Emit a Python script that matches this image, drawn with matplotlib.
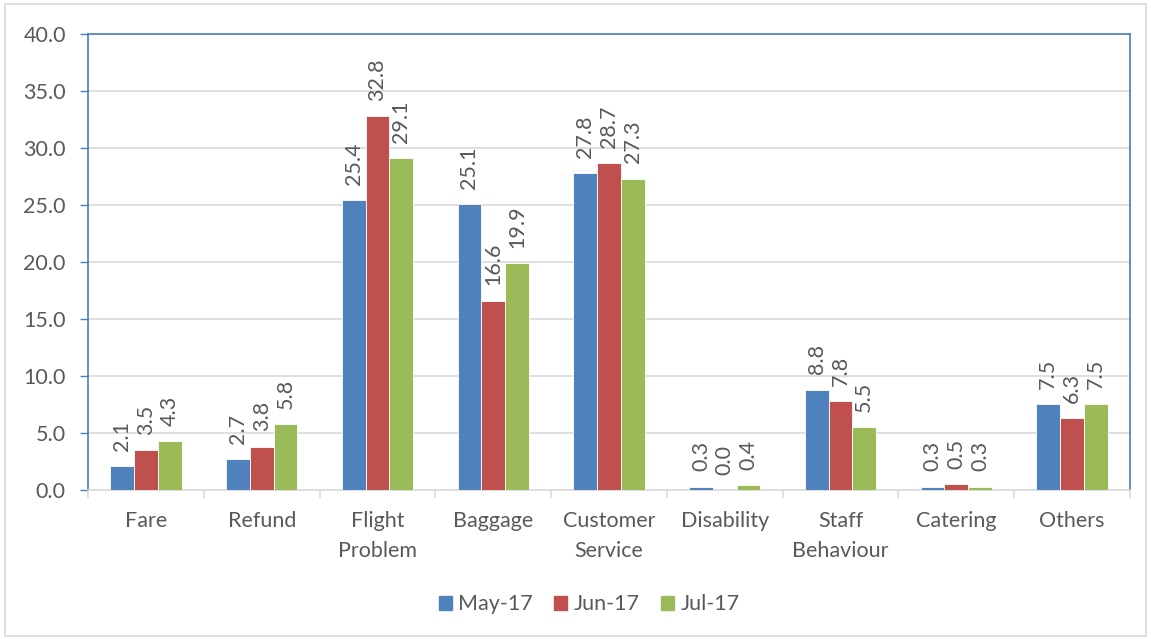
import matplotlib.pyplot as plt
import matplotlib.patches as mpatches
import numpy as np

plt.rcParams['font.family'] = ['Lato', 'DejaVu Sans']

categories = ["Fare", "Refund", "Flight\nProblem", "Baggage", "Customer\nService",
              "Disability", "Staff\nBehaviour", "Catering", "Others"]
series_names = ["May-17", "Jun-17", "Jul-17"]
may17 = [2.1, 2.7, 25.4, 25.1, 27.8, 0.3, 8.8, 0.3, 7.5]
jun17 = [3.5, 3.8, 32.8, 16.6, 28.7, 0.0, 7.8, 0.5, 6.3]
jul17 = [4.3, 5.8, 29.1, 19.9, 27.3, 0.4, 5.5, 0.3, 7.5]
colors = ["#4F81BD", "#C0504D", "#9BBB59"]
yticks = [0, 5, 10, 15, 20, 25, 30, 35, 40]

TEXT = "#595959"
GRID = "#D9D9D9"
AXBLUE = "#4A7EBB"
FS = 15.5

fig = plt.figure(figsize=(11.51, 6.39), dpi=100)
ax = fig.add_axes([0.0765, 0.2332, 0.9052, 0.7136])

x = np.arange(len(categories))
w = 0.205
for i, (vals, name, c) in enumerate(zip([may17, jun17, jul17], series_names, colors)):
    pos = x + (i - 1) * w
    ax.bar(pos, vals, width=w, color=c, edgecolor="white", linewidth=0.6,
           label=name, zorder=3)
    for p, v in zip(pos, vals):
        ax.annotate(f"{v:.1f}", (p, v), xytext=(0, 11), textcoords="offset points",
                    rotation=90, ha="center", va="bottom", fontsize=FS, color=TEXT)

ax.set_xlim(-0.5, len(categories) - 0.5)
ax.set_ylim(0, 40)
ax.set_yticks(yticks)
ax.set_yticklabels([f"{t:.1f}" for t in yticks], fontsize=FS, color=TEXT)
ax.yaxis.grid(True, color=GRID, linewidth=1.2, zorder=0)

ax.set_xticks(x)
ax.set_xticklabels(categories, fontsize=FS, color=TEXT, linespacing=1.65)
ax.tick_params(axis="x", length=0, pad=15)
ax.set_xticks(np.arange(-0.5, len(categories)), minor=True)
ax.tick_params(axis="x", which="minor", length=6, color=GRID, width=1.2)
ax.tick_params(axis="y", length=6, color=AXBLUE, width=1.0, direction="out", pad=10)

for side in ("left", "top", "right"):
    ax.spines[side].set_color(AXBLUE)
    ax.spines[side].set_linewidth(1.2)
ax.spines["bottom"].set_color(GRID)
ax.spines["bottom"].set_linewidth(1.2)

handles = [mpatches.Patch(color=c, label=n) for c, n in zip(colors, series_names)]
fig.legend(handles=handles, loc="center", bbox_to_anchor=(0.512, 0.054), ncol=3,
           frameon=False, fontsize=FS, handlelength=0.6, handleheight=0.6,
           handletextpad=0.3, columnspacing=1.0, labelcolor=TEXT)

fig.patches.append(mpatches.Rectangle((0.004, 0.004), 0.992, 0.99, transform=fig.transFigure,
                                      fill=False, edgecolor="#D9D9D9", linewidth=1.2))

fig.savefig("out.png", dpi=100)
